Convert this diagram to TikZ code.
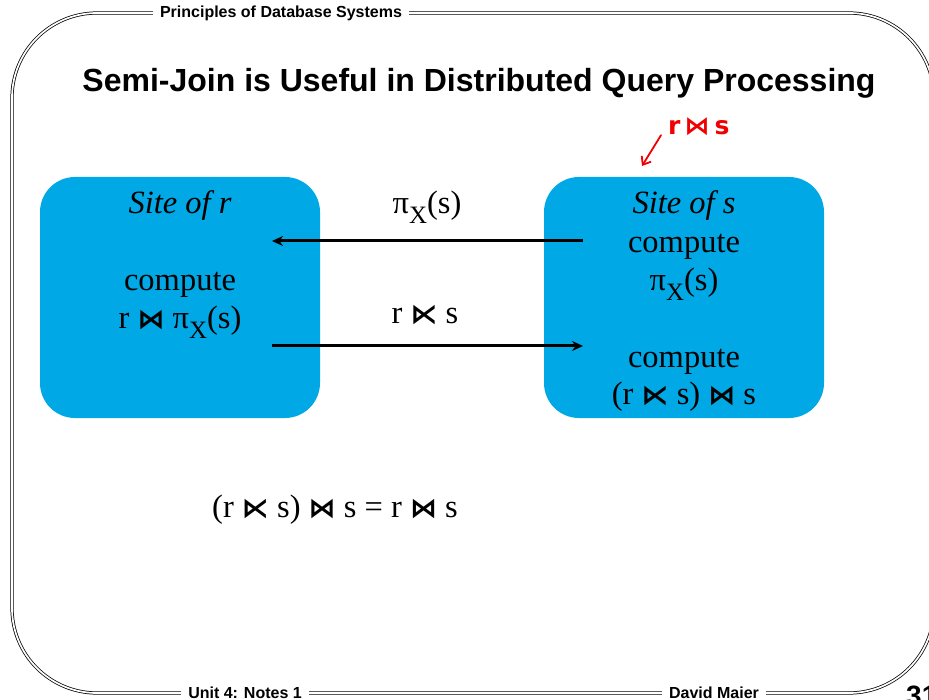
\documentclass[tikz,border=0pt]{standalone}
\usepackage{fontspec}
\usepackage{graphicx}
\setmainfont{Liberation Serif}
\newfontfamily\hdfont{Liberation Sans}
\newfontfamily\symfont{DejaVu Sans}
\usetikzlibrary{arrows.meta}
\definecolor{sitecyan}{RGB}{0,168,230}
\definecolor{inkred}{RGB}{240,0,0}
\newcommand\jn{{\symfont\bfseries\fontsize{27}{27}\selectfont ⋈}}
\newcommand\sj{{\symfont\bfseries\fontsize{27}{27}\selectfont ⋉}}
\newcommand\pix{π\raisebox{-0.3em}{\fontsize{25}{25}\selectfont X}(s)}
\tikzset{
  x=1pt, y=-1pt,
  frameline/.style={double, double distance=1.7pt, line width=0.75pt, draw=black},
  hdtext/.style={font=\hdfont\bfseries\fontsize{16}{18}\selectfont, fill=white, inner xsep=7pt, inner ysep=1pt, anchor=base},
  sitebox/.style={fill=sitecyan, rounded corners=35pt},
  body/.style={font=\fontsize{32.5}{37}\selectfont, anchor=base, inner sep=0pt},
  msg/.style={line width=3pt, -{Stealth[length=11pt,width=10pt]}},
}
\begin{document}
\begin{tikzpicture}
\useasboundingbox (0,0) rectangle (929,700);
\clip (0,0) rectangle (929,700);
% frame
\draw[frameline, rounded corners=85pt] (12,13) rectangle (934,693);
\node[hdtext] (hd) at (281,18) {Principles of Database Systems};
\node[hdtext] (ft1) at (245,698) {Unit 4: Notes 1};
\node[hdtext] (ft2) at (714,698) {David Maier};
\node[font=\hdfont\bfseries\fontsize{28}{30}\selectfont, anchor=base west, inner sep=0pt] (pg) at (906,705) {31};
% title
\node[font=\hdfont\bfseries\fontsize{32}{36}\selectfont, anchor=base, inner sep=0pt] (title) at (479,92) {Semi-Join is Useful in Distributed Query Processing};
% boxes
\path[sitebox] (40,177) rectangle (320,418);
\path[sitebox] (544,177) rectangle (824,418);
\node[body] (rt) at (180,214) {\itshape Site of r};
\node[body] (rc) at (180,291) {compute};
\node[body] (rj) at (180,329) {r \jn\ \pix};
\node[body] (st) at (684,214) {\itshape Site of s};
\node[body] (sc1) at (684,253) {compute};
\node[body] (sp) at (684,291) {\pix};
\node[body] (sc2) at (684,368) {compute};
\node[body] (sj) at (684,405) {(r \sj\ s) \jn\ s};
% arrows
\coordinate (a1s) at (583,241);
\coordinate (a1e) at (272,241);
\coordinate (a2s) at (272,346);
\coordinate (a2e) at (583,346);
\draw[msg] (a1s) -- (a1e);
\draw[msg] (a2s) -- (a2e);
\node[body] (l1) at (427,214) {\pix};
\node[body] (l2) at (425,324) {r \sj\ s};
% equation
\node[body] (eq) at (335,517) {(r \sj\ s) \jn\ s = r \jn\ s};
% red annotation
\node[font=\symfont\bfseries\fontsize{25}{26}\selectfont, text=inkred, anchor=base west, inner sep=0pt] (note) at (668,135) {r\kern4pt⋈\kern5pt s};
\coordinate (na) at (642,166);
\draw[inkred, line width=1.8pt, line cap=round, -{Straight Barb[length=7pt,width=11pt]}] (note.west) ++(-7,8) -- (na);
\end{tikzpicture}
\end{document}
